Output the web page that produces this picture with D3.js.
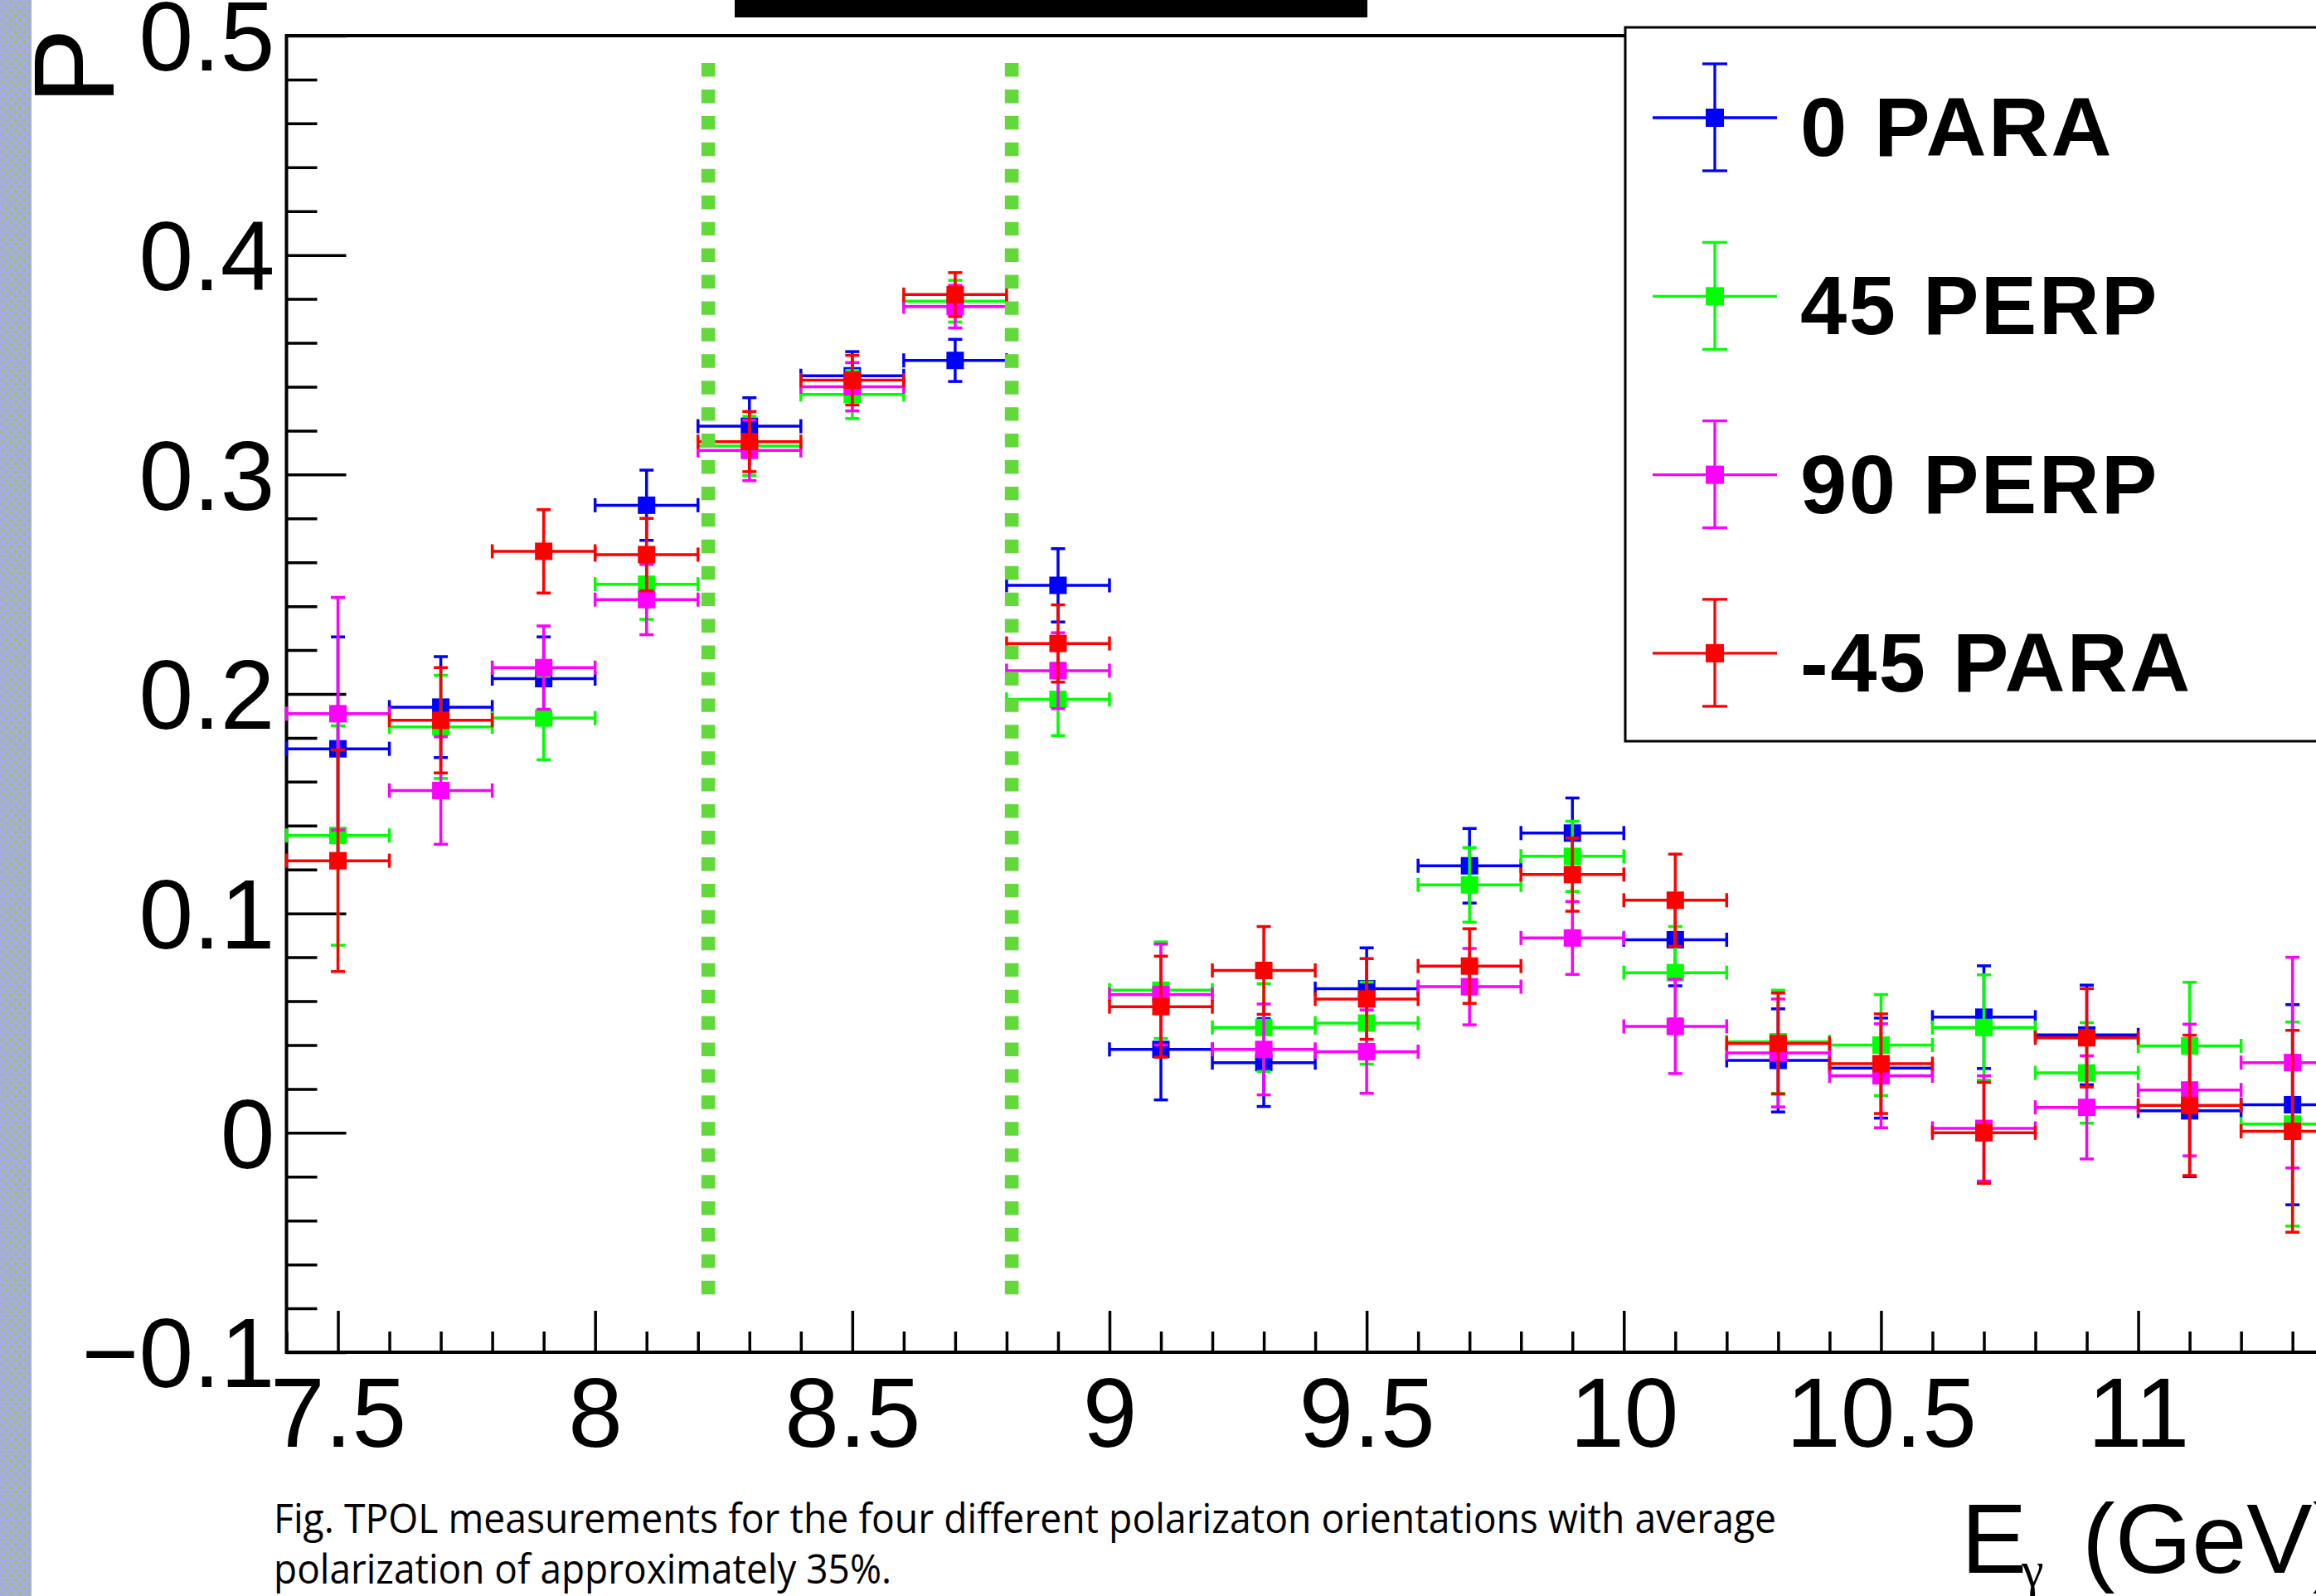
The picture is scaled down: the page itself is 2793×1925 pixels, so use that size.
<!DOCTYPE html>
<html>
<head>
<meta charset="utf-8">
<script src="https://cdn.jsdelivr.net/npm/d3@7"></script>
<style>
  html, body { margin: 0; padding: 0; background: #fff; }
  svg { display: block; }
</style>
</head>
<body>
<svg id="chart" width="2793" height="1925"></svg>
<script>
// Photon-energy bins (centres) and half-width of each bin, GeV
const energies = [7.5, 7.7, 7.9, 8.1, 8.3, 8.5, 8.7, 8.9, 9.1, 9.3,
                  9.5, 9.7, 9.9, 10.1, 10.3, 10.5, 10.7, 10.9, 11.1, 11.3];
const binHalfWidth = 0.1;

// Measured polarization and its uncertainty for each orientation
const para0 = [0.175, 0.194, 0.207, 0.286, 0.322, 0.345, 0.352, 0.2495, 0.038, 0.032,
               0.0657, 0.1217, 0.1366, 0.088, 0.033, 0.0295, 0.0527, 0.0446, 0.010, 0.0128];
const para0Err = [0.051, 0.023, 0.019, 0.016, 0.013, 0.011, 0.0096, 0.0167, 0.023, 0.020,
                  0.0186, 0.017, 0.016, 0.021, 0.0235, 0.0228, 0.0234, 0.0227, 0.030, 0.0456];

const perp45 = [0.1355, 0.185, 0.189, 0.250, 0.313, 0.3365, 0.379, 0.1975, 0.065, 0.048,
                0.050, 0.113, 0.126, 0.073, 0.0415, 0.040, 0.048, 0.0273, 0.0396, 0.004];
const perp45Err = [0.050, 0.0235, 0.019, 0.016, 0.0135, 0.011, 0.0095, 0.0165, 0.022, 0.020,
                   0.0187, 0.017, 0.016, 0.021, 0.0235, 0.023, 0.024, 0.0229, 0.029, 0.0465];

const perp90 = [0.191, 0.156, 0.212, 0.243, 0.311, 0.340, 0.3765, 0.2106, 0.063, 0.038,
                0.037, 0.0666, 0.0888, 0.0485, 0.0364, 0.026, 0.002, 0.0116, 0.0195, 0.032];
const perp90Err = [0.053, 0.0245, 0.019, 0.016, 0.0138, 0.011, 0.0097, 0.0173, 0.023, 0.0207,
                   0.019, 0.0174, 0.0166, 0.0215, 0.0246, 0.0237, 0.024, 0.0235, 0.030, 0.048];

const paraM45 = [0.124, 0.188, 0.265, 0.2635, 0.315, 0.343, 0.382, 0.223, 0.0575, 0.074,
                 0.061, 0.076, 0.1177, 0.106, 0.0407, 0.0315, 0.000, 0.0433, 0.0125, 0.0007];
const paraM45Err = [0.0505, 0.024, 0.019, 0.0165, 0.0137, 0.0113, 0.010, 0.0176, 0.023, 0.020,
                    0.0184, 0.017, 0.0167, 0.021, 0.023, 0.0227, 0.023, 0.0224, 0.032, 0.046];

const seriesNames = ["0 PARA", "45 PERP", "90 PERP", "-45 PARA"];
const seriesColors = ["#0000ff", "#00ff00", "#ff00ff", "#ff0000"];

// Axis ticks and labels
const yMajorTicks = [-0.1, 0, 0.1, 0.2, 0.3, 0.4, 0.5];
const yTickLabels = ["\u22120.1", "0", "0.1", "0.2", "0.3", "0.4", "0.5"];
const xMajorTicks = [7.5, 8, 8.5, 9, 9.5, 10, 10.5, 11];
const xTickLabels = ["7.5", "8", "8.5", "9", "9.5", "10", "10.5", "11"];

// Coherent-peak window markers (energy) and their vertical extent (P)
const cutLines = [8.22, 8.81];
const cutRange = [-0.0736, 0.4875];

const caption = [
  "Fig. TPOL measurements for the four different polarizaton orientations with average",
  "polarization of approximately 35%."
];

const seriesValues = [para0, perp45, perp90, paraM45];
const seriesErrors = [para0Err, perp45Err, perp90Err, paraM45Err];

// ---------------------------------------------------------------------
const svg = d3.select("#chart");
const W = 2793, H = 1925;
const frame = { left: 345.5, top: 43, right: 2826.7, bottom: 1631 };
const axisFont = "'Liberation Sans', Arial, Helvetica, sans-serif";

svg.append("rect").attr("width", W).attr("height", H).attr("fill", "#fff");

const x = d3.scaleLinear().domain([7.4, 11.4]).range([frame.left, frame.right]);
const y = d3.scaleLinear().domain([-0.1, 0.5]).range([frame.bottom, frame.top]);

// textured side strip
const defs = svg.append("defs");
const pat = defs.append("pattern").attr("id", "strip")
  .attr("patternUnits", "userSpaceOnUse").attr("width", 10.6).attr("height", 10.6);
pat.append("rect").attr("width", 10.6).attr("height", 10.6).attr("fill", "#a9aae4");
pat.append("rect").attr("x", 1).attr("y", 1).attr("width", 3.4).attr("height", 3.4).attr("fill", "#8fc957");
pat.append("rect").attr("x", 6.3).attr("y", 6.3).attr("width", 3.4).attr("height", 3.4).attr("fill", "#8fc957");
svg.append("rect").attr("x", 0).attr("y", 0).attr("width", 38).attr("height", H).attr("fill", "url(#strip)");

// black bar at the top
svg.append("rect").attr("x", 886).attr("y", 0).attr("width", 763).attr("height", 21).attr("fill", "#000");

// minor ticks
const yMinor = d3.range(-5, 26).map(k => +(k * 0.02).toFixed(2)).filter(v => !yMajorTicks.includes(v));
const xMinor = d3.range(74, 115).map(k => +(k / 10).toFixed(1)).filter(v => !xMajorTicks.includes(v));

function styleAxis(g) {
  g.select(".domain").remove();
  g.selectAll(".tick line").attr("stroke", "#000").attr("stroke-width", 3.5);
  g.selectAll(".tick text").attr("fill", "#000")
    .style("font-family", axisFont).style("font-size", "118px");
}

const gyMinor = svg.append("g").attr("transform", `translate(${frame.left},0)`)
  .call(d3.axisLeft(y).tickValues(yMinor).tickFormat("").tickSize(-37).tickSizeOuter(0));
styleAxis(gyMinor);

const gy = svg.append("g").attr("transform", `translate(${frame.left},0)`)
  .call(d3.axisLeft(y).tickValues(yMajorTicks)
    .tickFormat((d, i) => yTickLabels[i]).tickSize(-72).tickPadding(14).tickSizeOuter(0));
styleAxis(gy);
gy.selectAll(".tick text").attr("dy", "0.355em");

const gxMinor = svg.append("g").attr("transform", `translate(0,${frame.bottom})`)
  .call(d3.axisBottom(x).tickValues(xMinor).tickFormat("").tickSize(-25).tickSizeOuter(0));
styleAxis(gxMinor);

const gx = svg.append("g").attr("transform", `translate(0,${frame.bottom})`)
  .call(d3.axisBottom(x).tickValues(xMajorTicks)
    .tickFormat((d, i) => xTickLabels[i]).tickSize(-50).tickPadding(30).tickSizeOuter(0));
styleAxis(gx);

// frame
svg.append("rect")
  .attr("x", frame.left).attr("y", frame.top)
  .attr("width", frame.right - frame.left).attr("height", frame.bottom - frame.top)
  .attr("fill", "none").attr("stroke", "#000").attr("stroke-width", 4);

// data points with error bars
const markerSize = 21, cap = 8.5, lw = 3.5;
seriesValues.forEach((vals, s) => {
  const errs = seriesErrors[s];
  const col = seriesColors[s];
  const pts = energies.map((e, i) => ({ e, v: vals[i], err: errs[i] }));
  const g = svg.append("g").attr("stroke", col).attr("stroke-width", lw).attr("fill", col);
  const pt = g.selectAll("g.pt").data(pts).join("g").attr("class", "pt");
  // horizontal bar
  pt.append("line")
    .attr("x1", d => x(d.e - binHalfWidth)).attr("x2", d => x(d.e + binHalfWidth))
    .attr("y1", d => y(d.v)).attr("y2", d => y(d.v));
  pt.append("line")
    .attr("x1", d => x(d.e - binHalfWidth)).attr("x2", d => x(d.e - binHalfWidth))
    .attr("y1", d => y(d.v) - cap).attr("y2", d => y(d.v) + cap);
  pt.append("line")
    .attr("x1", d => x(d.e + binHalfWidth)).attr("x2", d => x(d.e + binHalfWidth))
    .attr("y1", d => y(d.v) - cap).attr("y2", d => y(d.v) + cap);
  // vertical bar
  pt.append("line")
    .attr("x1", d => x(d.e)).attr("x2", d => x(d.e))
    .attr("y1", d => y(d.v + d.err)).attr("y2", d => y(d.v - d.err));
  pt.append("line")
    .attr("x1", d => x(d.e) - cap).attr("x2", d => x(d.e) + cap)
    .attr("y1", d => y(d.v + d.err)).attr("y2", d => y(d.v + d.err));
  pt.append("line")
    .attr("x1", d => x(d.e) - cap).attr("x2", d => x(d.e) + cap)
    .attr("y1", d => y(d.v - d.err)).attr("y2", d => y(d.v - d.err));
  // square marker
  pt.append("rect")
    .attr("x", d => x(d.e) - markerSize / 2).attr("y", d => y(d.v) - markerSize / 2)
    .attr("width", markerSize).attr("height", markerSize).attr("stroke", "none");
});

// dotted window lines
svg.append("g").selectAll("line").data(cutLines).join("line")
  .attr("x1", d => x(d)).attr("x2", d => x(d))
  .attr("y1", y(cutRange[1])).attr("y2", y(cutRange[0]))
  .attr("stroke", "#63d83b").attr("stroke-width", 16.6)
  .attr("stroke-dasharray", "16.4 15.53");

// legend
const leg = svg.append("g");
leg.append("rect").attr("x", 1960).attr("y", 33).attr("width", 900).attr("height", 861)
  .attr("fill", "#fff").attr("stroke", "#000").attr("stroke-width", 3);
seriesNames.forEach((name, i) => {
  const cy = 142 + i * 215.3, cx = 2068;
  const g = leg.append("g").attr("stroke", seriesColors[i]).attr("stroke-width", 3.3);
  g.append("line").attr("x1", cx - 75).attr("x2", cx + 75).attr("y1", cy).attr("y2", cy);
  g.append("line").attr("x1", cx).attr("x2", cx).attr("y1", cy - 65).attr("y2", cy + 64);
  g.append("line").attr("x1", cx - 15).attr("x2", cx + 15).attr("y1", cy - 65).attr("y2", cy - 65);
  g.append("line").attr("x1", cx - 15).attr("x2", cx + 15).attr("y1", cy + 64).attr("y2", cy + 64);
  g.append("rect").attr("x", cx - 11).attr("y", cy - 11).attr("width", 22).attr("height", 22)
    .attr("fill", seriesColors[i]).attr("stroke", "none");
  leg.append("text").attr("x", 2171).attr("y", cy + 46)
    .style("font-family", axisFont).style("font-weight", "bold").style("font-size", "101px")
    .style("letter-spacing", "2.5px")
    .attr("fill", "#000").text(name);
});

// axis titles
svg.append("text")
  .attr("transform", "translate(137,126) rotate(-90)")
  .style("font-family", axisFont).style("font-size", "138px").attr("fill", "#000")
  .text("P");

svg.append("text").attr("x", 2365).attr("y", 1897)
  .style("font-family", axisFont).style("font-size", "119px").attr("fill", "#000").text("E");
svg.append("text").attr("x", 2438).attr("y", 1913)
  .style("font-family", "'Liberation Serif', 'DejaVu Serif', serif").style("font-size", "60px")
  .attr("fill", "#000").text("\u03b3");
svg.append("text").attr("x", 2511).attr("y", 1897)
  .style("font-family", axisFont).style("font-size", "119px").attr("fill", "#000").text("(GeV)");

// caption
const capFont = "'Liberation Sans Narrow', 'Open Sans', 'Noto Sans', sans-serif";
const capWidths = [1812, 745];
const capBaselines = [1849, 1910];
caption.forEach((line, i) => {
  svg.append("text").attr("x", 330).attr("y", capBaselines[i])
    .attr("textLength", capWidths[i]).attr("lengthAdjust", "spacingAndGlyphs")
    .style("font-family", capFont).style("font-size", "49px").attr("fill", "#000")
    .text(line);
});
</script>
</body>
</html>
